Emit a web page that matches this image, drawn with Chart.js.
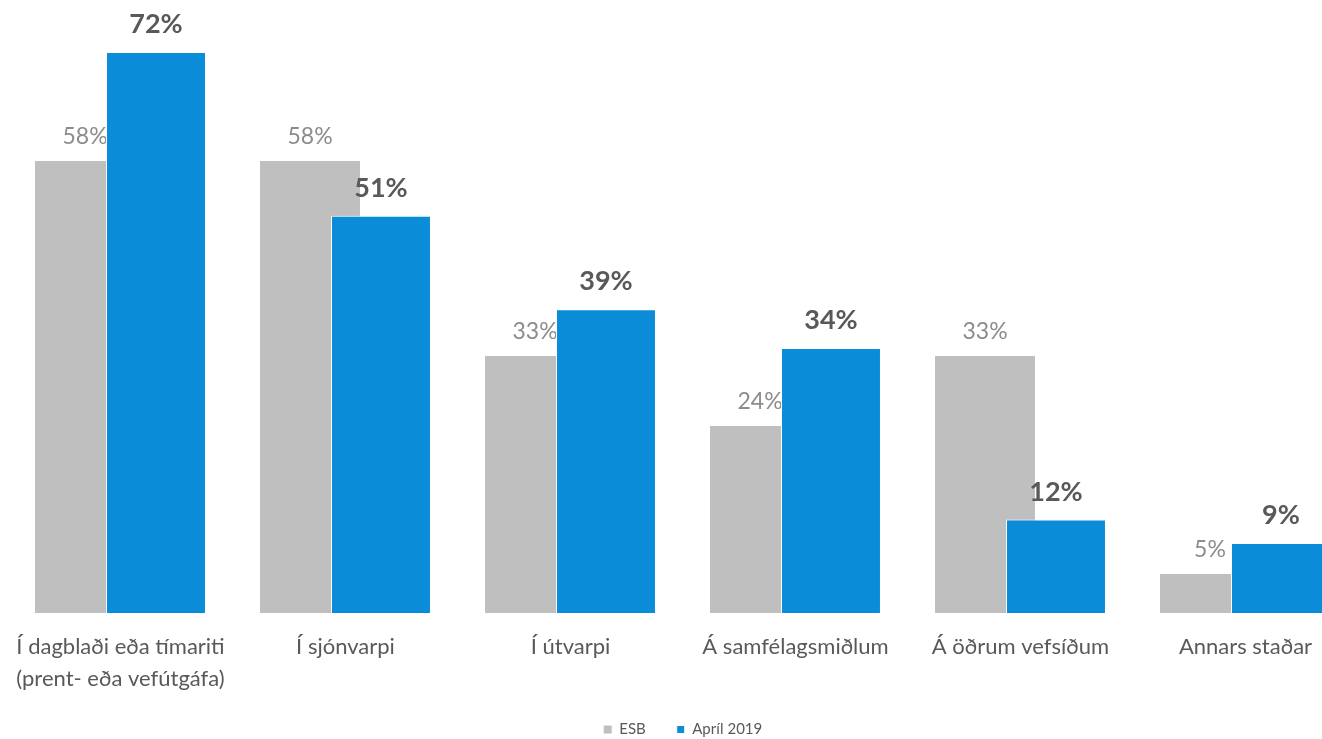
<!DOCTYPE html>
<html>
<head>
<meta charset="utf-8">
<script src="https://cdn.jsdelivr.net/npm/chart.js@4.4.1/dist/chart.umd.min.js"></script>
<style>
  html, body { margin: 0; padding: 0; background: #fff; overflow: hidden; }
  #wrap { width: 1366px; height: 739px; }
</style>
</head>
<body>
<div id="wrap"><canvas id="c" width="1366" height="739"></canvas></div>
<script>
const categories = [
  ["Í dagblaði eða tímariti", "(prent- eða vefútgáfa)"],
  "Í sjónvarpi",
  "Í útvarpi",
  "Á samfélagsmiðlum",
  "Á öðrum vefsíðum",
  "Annars staðar"
];
const seriesNames = ["ESB", "Apríl 2019"];
const esbValues = [58, 58, 33, 24, 33, 5];
const aprilValues = [72, 51, 39, 34, 12, 9];

const GRAY = '#BFBFBF';
const BLUE = '#0B8CD9';
const FONT = 'Lato, "Liberation Sans", sans-serif';

const labelPlugin = {
  id: 'overlapLabels',
  beforeDatasetDraw(chart, args) {
    if (args.index === 1) return false; // blue drawn later, on top
  },
  afterDatasetsDraw(chart) {
    const ctx = chart.ctx;
    const drawLabels = (idx, font, color, gap) => {
      const meta = chart.getDatasetMeta(idx);
      const vals = chart.data.datasets[idx].data;
      ctx.save();
      ctx.font = font;
      ctx.fillStyle = color;
      ctx.textAlign = 'center';
      ctx.textBaseline = 'alphabetic';
      meta.data.forEach((bar, i) => {
        ctx.fillText(vals[i] + '%', bar.x, bar.y - gap);
      });
      ctx.restore();
    };
    drawLabels(0, '23px ' + FONT, '#8C8C8C', 17);
    const blueMeta = chart.getDatasetMeta(1);
    blueMeta.controller.draw();
    drawLabels(1, 'bold 27px ' + FONT, '#595959', 19);
  }
};

new Chart(document.getElementById('c'), {
  type: 'bar',
  data: {
    labels: categories,
    datasets: [
      {
        label: seriesNames[0],
        data: esbValues,
        backgroundColor: GRAY,
        borderWidth: 0,
        categoryPercentage: 0.631,
        barPercentage: 1.408
      },
      {
        label: seriesNames[1],
        data: aprilValues,
        backgroundColor: BLUE,
        borderColor: '#FFFFFF',
        borderWidth: 1,
        categoryPercentage: 0.631,
        barPercentage: 1.408
      }
    ]
  },
  options: {
    responsive: false,
    animation: false,
    layout: { padding: { left: 8, right: 8, top: 52, bottom: 0 } },
    plugins: {
      legend: {
        position: 'bottom',
        maxHeight: 48,
        labels: {
          boxWidth: 8,
          boxHeight: 8,
          padding: 31,
          color: '#595959',
          font: { family: FONT, size: 15 }
        }
      },
      tooltip: { enabled: false }
    },
    scales: {
      x: {
        grid: { display: false },
        border: { display: false },
        ticks: {
          color: '#595959',
          padding: 10,
          maxRotation: 0,
          autoSkip: false,
          font: { family: FONT, size: 22, lineHeight: 1.45 }
        },
        afterFit(scale) { scale.height = 78; }
      },
      y: {
        display: false,
        min: 0,
        max: 72,
        grid: { display: false }
      }
    }
  },
  plugins: [labelPlugin]
});
</script>
</body>
</html>
